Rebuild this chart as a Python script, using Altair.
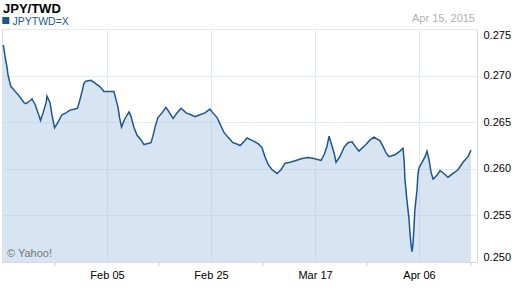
import altair as alt
import pandas as pd

dates = [
    "2015-01-16T01:00", "2015-01-16T05:00", "2015-01-16T12:00", "2015-01-16T18:00",
    "2015-01-16T23:00", "2015-01-17T06:00", "2015-01-17T13:00", "2015-01-17T22:00",
    "2015-01-18T12:00", "2015-01-19T06:00", "2015-01-20T01:00", "2015-01-20T10:00",
    "2015-01-21T05:00", "2015-01-21T14:00", "2015-01-22T04:00", "2015-01-22T18:00",
    "2015-01-23T05:00", "2015-01-23T17:00", "2015-01-24T07:00", "2015-01-24T11:00",
    "2015-01-25T01:00", "2015-01-25T10:00", "2015-01-25T22:00", "2015-01-26T14:00",
    "2015-01-27T08:00", "2015-01-28T03:00", "2015-01-28T21:00", "2015-01-29T16:00",
    "2015-01-30T08:00", "2015-01-30T19:00", "2015-01-31T05:00", "2015-01-31T14:00",
    "2015-01-31T23:00", "2015-02-01T22:00", "2015-02-02T17:00", "2015-02-03T16:00",
    "2015-02-04T10:00", "2015-02-05T00:00", "2015-02-06T08:00", "2015-02-06T18:00",
    "2015-02-07T03:00", "2015-02-07T10:00", "2015-02-07T19:00", "2015-02-08T11:00",
    "2015-02-09T06:00", "2015-02-09T15:00", "2015-02-10T05:00", "2015-02-10T19:00",
    "2015-02-11T13:00", "2015-02-12T03:00", "2015-02-13T11:00", "2015-02-13T20:00",
    "2015-02-14T06:00", "2015-02-14T19:00", "2015-02-15T14:00", "2015-02-16T08:00",
    "2015-02-16T22:00", "2015-02-17T17:00", "2015-02-18T11:00", "2015-02-19T06:00",
    "2015-02-20T05:00", "2015-02-21T04:00", "2015-02-21T22:00", "2015-02-22T21:00",
    "2015-02-23T20:00", "2015-02-24T19:00", "2015-02-25T09:00", "2015-02-26T04:00",
    "2015-02-26T18:00", "2015-02-27T12:00", "2015-02-28T06:00", "2015-03-01T05:00",
    "2015-03-02T05:00", "2015-03-02T14:00", "2015-03-03T08:00", "2015-03-03T22:00",
    "2015-03-05T02:00", "2015-03-06T01:00", "2015-03-06T19:00", "2015-03-07T09:00",
    "2015-03-07T23:00", "2015-03-08T18:00", "2015-03-09T17:00", "2015-03-10T11:00",
    "2015-03-11T06:00", "2015-03-12T05:00", "2015-03-13T08:00", "2015-03-14T12:00",
    "2015-03-15T16:00", "2015-03-16T19:00", "2015-03-18T04:00", "2015-03-18T18:00",
    "2015-03-19T07:00", "2015-03-19T17:00", "2015-03-20T02:00", "2015-03-20T16:00",
    "2015-03-21T01:00", "2015-03-21T19:00", "2015-03-22T14:00", "2015-03-23T08:00",
    "2015-03-24T03:00", "2015-03-24T21:00", "2015-03-25T11:00", "2015-03-26T19:00",
    "2015-03-27T14:00", "2015-03-28T08:00", "2015-03-29T12:00", "2015-03-30T02:00",
    "2015-03-30T16:00", "2015-03-31T05:00", "2015-04-01T09:00", "2015-04-02T08:00",
    "2015-04-02T22:00", "2015-04-03T03:00", "2015-04-03T07:00", "2015-04-03T16:00",
    "2015-04-04T02:00", "2015-04-04T06:00", "2015-04-04T11:00", "2015-04-04T16:00",
    "2015-04-04T20:00", "2015-04-05T01:00", "2015-04-05T05:00", "2015-04-05T15:00",
    "2015-04-05T19:00", "2015-04-06T00:00", "2015-04-06T14:00", "2015-04-07T04:00",
    "2015-04-07T13:00", "2015-04-07T22:00", "2015-04-08T07:00", "2015-04-08T17:00",
    "2015-04-09T11:00", "2015-04-10T01:00", "2015-04-10T19:00", "2015-04-11T14:00",
    "2015-04-12T13:00", "2015-04-13T12:00", "2015-04-14T11:00", "2015-04-15T10:00",
    "2015-04-16T00:00",
]

rates = [
    0.2733, 0.2728, 0.2717, 0.2710,
    0.2701, 0.2694, 0.2688, 0.2686,
    0.2682, 0.2677, 0.2671, 0.2670,
    0.2673, 0.2675, 0.2669, 0.2660,
    0.2652, 0.2660, 0.2671, 0.2678,
    0.2671, 0.2658, 0.2644, 0.2650,
    0.2658, 0.2660, 0.2663, 0.2664,
    0.2665, 0.2674, 0.2683, 0.2692,
    0.2694, 0.2695, 0.2692, 0.2688,
    0.2683, 0.2683, 0.2683, 0.2674,
    0.2666, 0.2655, 0.2645, 0.2654,
    0.2661, 0.2656, 0.2644, 0.2636,
    0.2631, 0.2626, 0.2628, 0.2635,
    0.2645, 0.2655, 0.2660, 0.2666,
    0.2661, 0.2654, 0.2660, 0.2665,
    0.2660, 0.2658, 0.2656, 0.2658,
    0.2660, 0.2664, 0.2660, 0.2655,
    0.2648, 0.2639, 0.2634, 0.2628,
    0.2626, 0.2625, 0.2629, 0.2633,
    0.2630, 0.2627, 0.2623, 0.2613,
    0.2605, 0.2599, 0.2595, 0.2599,
    0.2606, 0.2607, 0.2609, 0.2611,
    0.2612, 0.2611, 0.2609, 0.2615,
    0.2624, 0.2635, 0.2628, 0.2617,
    0.2607, 0.2613, 0.2623, 0.2628,
    0.2629, 0.2623, 0.2619, 0.2626,
    0.2631, 0.2634, 0.2630, 0.2624,
    0.2617, 0.2613, 0.2615, 0.2619,
    0.2622, 0.2610, 0.2589, 0.2567,
    0.2546, 0.2532, 0.2519, 0.2511,
    0.2519, 0.2538, 0.2556, 0.2578,
    0.2594, 0.2601, 0.2607, 0.2613,
    0.2619, 0.2610, 0.2597, 0.2589,
    0.2593, 0.2598, 0.2595, 0.2591,
    0.2595, 0.2599, 0.2607, 0.2613,
    0.2620,
]

major_ticks = ["2015-02-05", "2015-02-25", "2015-03-17", "2015-04-06"]
minor_ticks = ["2015-01-26", "2015-02-15", "2015-03-07", "2015-03-27", "2015-04-16"]
y_ticks = [0.250, 0.255, 0.260, 0.265, 0.270, 0.275]

title_text = "JPY/TWD"
legend_text = "JPYTWD=X"
date_text = "Apr 15, 2015"
credit_text = "\u00a9 Yahoo!"

FONT = "Liberation Sans"
LINE = "#1d5592"

df = pd.DataFrame({"date": pd.to_datetime(dates), "rate": rates})
minor_df = pd.DataFrame({"date": pd.to_datetime(minor_ticks)})
one = pd.DataFrame({"k": [0]})

x_scale = alt.Scale(domain=[alt.DateTime(year=2015, month=1, date=15, hours=19, minutes=25),
                            alt.DateTime(year=2015, month=4, date=17, hours=3, minutes=40)])
y_scale = alt.Scale(domain=[0.250, 0.275], zero=False, nice=False)

x_axis = alt.Axis(
    values=[alt.DateTime(year=2015, month=int(d[5:7]), date=int(d[8:10])) for d in major_ticks],
    format="%b %d", title=None, grid=True, gridColor="#e3e9f1", ticks=False,
    labelColor="#000000", labelFontSize=11, labelFont=FONT, labelPadding=7,
    domainColor="#d5dce4", labelFlush=False,
)
y_axis = alt.Axis(
    values=y_ticks, format=".3f", orient="right", title=None, grid=True,
    gridColor="#e3e9f1", ticks=False, labelColor="#000000", labelFontSize=11,
    labelFont=FONT, labelPadding=6, domainColor="#d5dce4", labelFlush=True,
)

base = alt.Chart(df).encode(
    x=alt.X("date:T", scale=x_scale, axis=x_axis),
    y=alt.Y("rate:Q", scale=y_scale, axis=y_axis),
)

area = base.mark_area(color="#a9c9e2", opacity=0.48, clip=True)
line = base.mark_line(color=LINE, strokeWidth=1.5, clip=True)

minor = alt.Chart(minor_df).mark_rule(color="#c8ced6", strokeWidth=1).encode(
    x=alt.X("date:T", scale=x_scale),
    y=alt.value(233), y2=alt.value(237),
)

title = alt.Chart(one).mark_text(
    text=title_text, font=FONT, fontSize=13, fontWeight="bold", color="#000000",
    align="left", baseline="alphabetic",
).encode(x=alt.value(1), y=alt.value(-16.5))

legend_box = alt.Chart(one).mark_square(color=LINE, size=50, opacity=1, shape="square").encode(
    x=alt.value(3.8), y=alt.value(-8.5)
)
legend = alt.Chart(one).mark_text(
    text=legend_text, font=FONT, fontSize=10.5, color=LINE,
    align="left", baseline="alphabetic",
).encode(x=alt.value(10.5), y=alt.value(-4.3))

date_lbl = alt.Chart(one).mark_text(
    text=date_text, font=FONT, fontSize=11, color="#b0b0b0",
    align="right", baseline="alphabetic",
).encode(x=alt.value(473), y=alt.value(-7.5))

credit = alt.Chart(one).mark_text(
    text=credit_text, font=FONT, fontSize=11, color="#777777",
    align="left", baseline="alphabetic",
).encode(x=alt.value(5), y=alt.value(227.5))

chart = alt.layer(area, line, minor, title, legend_box, legend, date_lbl, credit).properties(
    width=475, height=233,
    autosize=alt.AutoSizeParams(type="none"),
    padding={"left": 2, "top": 29, "right": 35, "bottom": 26},
).configure_view(stroke="#e3e9f1", strokeWidth=1).configure(background="#ffffff")

chart.save("out.html", embed_options={"renderer": "svg", "actions": False})
